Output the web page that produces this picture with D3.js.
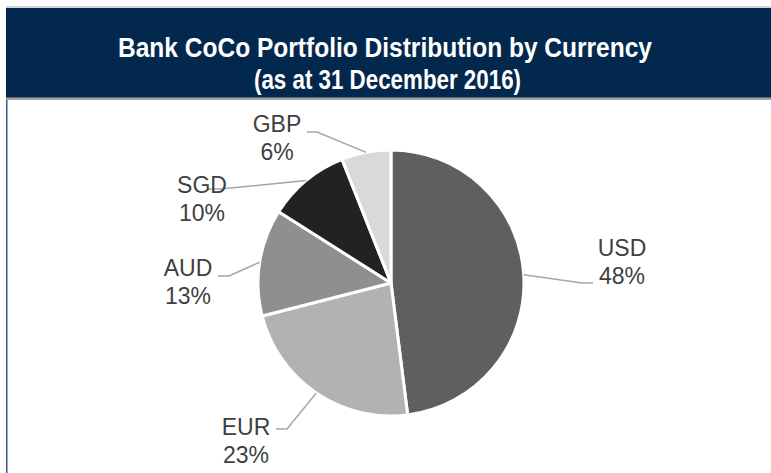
<!DOCTYPE html>
<html>
<head>
<meta charset="utf-8">
<script src="https://cdnjs.cloudflare.com/ajax/libs/d3/7.8.5/d3.min.js"></script>
<style>
  body { margin: 0; background: #fff; }
  svg { display: block; font-family: "Liberation Sans", Arial, sans-serif; }
  .title { fill: #fff; font-weight: bold; font-size: 27px; }
  .lbl { fill: #404040; font-size: 23px; }
  .leader { fill: none; stroke: #a6a6a6; stroke-width: 1.5; }
</style>
</head>
<body>
<script>
"use strict";

var currencies = ["USD", "EUR", "AUD", "SGD", "GBP"];
var shares = [48, 23, 13, 10, 6];
var sliceColors = ["#5f5f5f", "#b2b2b2", "#8f8f8f", "#222222", "#d9d9d9"];
var titleLines = ["Bank CoCo Portfolio Distribution by Currency", "(as at 31 December 2016)"];
var titleWidths = [534, 267]; // the title face is narrower than Arial, squeeze to fit

// label placement relative to the pie centre: text anchor point, elbow, leader end
var labelLayout = [
  { tx: 231, ty: -27, ex: 191, ey: 0, lx: 202, ly: 0 },
  { tx: -145, ty: 152, ex: -104, ey: 146, lx: -115, ly: 146 },
  { tx: -203, ty: -7, ex: -162, ey: -7, lx: -173, ly: -7 },
  { tx: -189, ty: -90, ex: -171, ey: -94, lx: -184, ly: -94 },
  { tx: -114, ty: -151, ex: -74, ey: -151, lx: -84, ly: -151 }
];

var width = 771, height = 473;
var cx = 391, cy = 283, radius = 133;

var svg = d3.select("body").append("svg")
  .attr("width", width)
  .attr("height", height);

// header band
svg.append("rect")
  .attr("x", 6).attr("y", 6).attr("width", width - 6).attr("height", 2)
  .attr("fill", "#d4d4d4");
svg.append("rect")
  .attr("x", 6).attr("y", 8).attr("width", width - 6).attr("height", 90)
  .attr("fill", "#03284e");
svg.append("rect")
  .attr("x", 6).attr("y", 97.5).attr("width", width - 6).attr("height", 2.5)
  .attr("fill", "#a3a3a3");
svg.append("rect")
  .attr("x", 6).attr("y", 100).attr("width", 1.5).attr("height", height - 100)
  .attr("fill", "#2f5b8a");

svg.selectAll(".title")
  .data(titleLines)
  .enter().append("text")
  .attr("class", "title")
  .attr("x", function (d, i) { return i === 0 ? 118 : 254; })
  .attr("y", function (d, i) { return 57 + i * 32; })
  .attr("textLength", function (d, i) { return titleWidths[i]; })
  .attr("lengthAdjust", "spacingAndGlyphs")
  .text(function (d) { return d; });

var pie = d3.pie().sort(null).value(function (d) { return d; });
var arcs = pie(shares);
var arc = d3.arc().innerRadius(0).outerRadius(radius);

var g = svg.append("g")
  .attr("transform", "translate(" + cx + "," + cy + ")");

g.selectAll(".slice")
  .data(arcs)
  .enter().append("path")
  .attr("class", "slice")
  .attr("d", arc)
  .attr("fill", function (d, i) { return sliceColors[i]; })
  .attr("stroke", "#fff")
  .attr("stroke-width", 3)
  .attr("stroke-linejoin", "round");

// leader lines start on the rim at the slice mid angle
g.selectAll(".leader")
  .data(arcs)
  .enter().append("polyline")
  .attr("class", "leader")
  .attr("points", function (d, i) {
    var a = (d.startAngle + d.endAngle) / 2;
    var p = labelLayout[i];
    var sx = Math.sin(a) * radius, sy = -Math.cos(a) * radius;
    return [[sx, sy], [p.ex, p.ey], [p.lx, p.ly]].join(" ");
  });

var lbl = g.selectAll(".lbl")
  .data(arcs)
  .enter().append("text")
  .attr("class", "lbl")
  .attr("text-anchor", "middle")
  .attr("transform", function (d, i) {
    return "translate(" + labelLayout[i].tx + "," + labelLayout[i].ty + ")";
  });

lbl.append("tspan")
  .attr("x", 0).attr("y", 0)
  .text(function (d, i) { return currencies[i]; });
lbl.append("tspan")
  .attr("x", 0).attr("y", 28)
  .text(function (d) { return d.data + "%"; });
</script>
</body>
</html>
